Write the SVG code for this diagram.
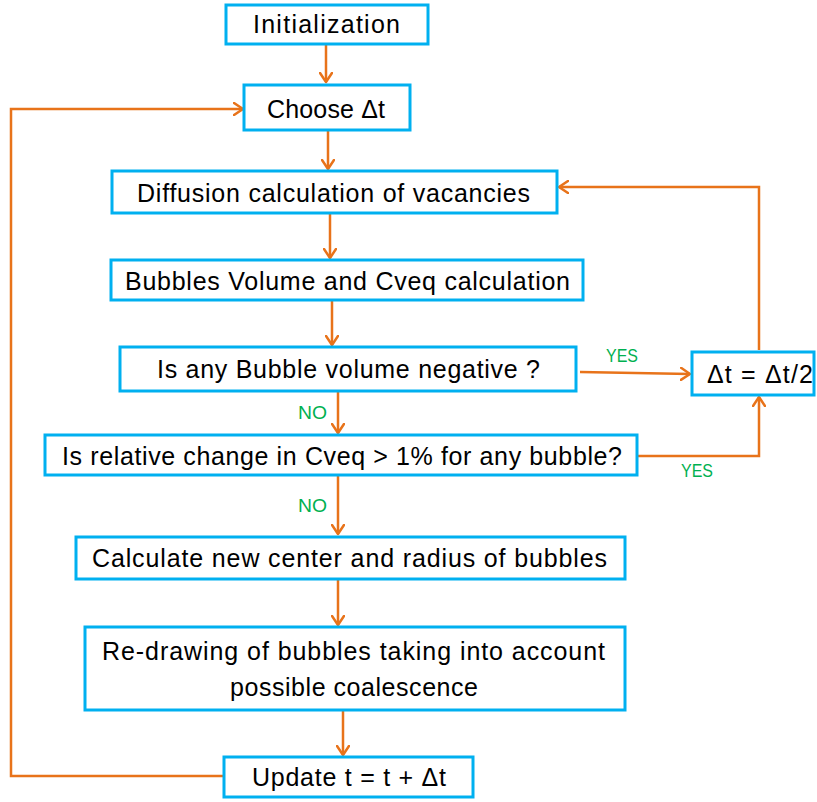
<svg xmlns="http://www.w3.org/2000/svg" width="817" height="802" viewBox="0 0 817 802">
  <defs>
    <marker id="arr" markerUnits="userSpaceOnUse" viewBox="-1 -1 12 14" refX="9" refY="6" markerWidth="12" markerHeight="14" orient="auto">
      <path d="M0,0 L9,6 L0,12" fill="none" stroke="#e8731a" stroke-width="2.5" stroke-linejoin="round" stroke-linecap="round"/>
    </marker>
  </defs>
  <style>
    .box { fill: #ffffff; stroke: #00b0f0; stroke-width: 3; }
    .t { font-family: "Liberation Sans", Arial, sans-serif; font-size: 25px; fill: #000000; }
    .lbl { font-family: "Liberation Sans", Arial, sans-serif; font-size: 18px; fill: #00b050; }
    .c { fill: none; stroke: #e8731a; stroke-width: 2.5; }
  </style>
  <rect width="817" height="802" fill="#ffffff"/>

  <g id="connectors">
    <path class="c" d="M326,44 V82" marker-end="url(#arr)"/>
    <path class="c" d="M328,131 V169" marker-end="url(#arr)"/>
    <path class="c" d="M330,213 V258" marker-end="url(#arr)"/>
    <path class="c" d="M332,301 V345" marker-end="url(#arr)"/>
    <path class="c" d="M338,392 V433" marker-end="url(#arr)"/>
    <path class="c" d="M338,476 V534" marker-end="url(#arr)"/>
    <path class="c" d="M338,580 V625" marker-end="url(#arr)"/>
    <path class="c" d="M343,711 V755" marker-end="url(#arr)"/>
    <path class="c" d="M580,372 L690,374" marker-end="url(#arr)"/>
    <path class="c" d="M638,456 H759 V397" marker-end="url(#arr)"/>
    <path class="c" d="M759,350 V187 H559" marker-end="url(#arr)"/>
    <path class="c" d="M223,776 H11 V109 H243" marker-end="url(#arr)"/>
    <text class="lbl" x="298" y="419" textLength="29" lengthAdjust="spacingAndGlyphs">NO</text>
    <text class="lbl" x="298" y="512" textLength="29" lengthAdjust="spacingAndGlyphs">NO</text>
    <text class="lbl" x="606" y="362" textLength="32" lengthAdjust="spacingAndGlyphs">YES</text>
    <text class="lbl" x="681" y="477" textLength="32" lengthAdjust="spacingAndGlyphs">YES</text>
  </g>

  <g id="init">
    <rect class="box" x="226" y="5" width="202" height="39"/>
    <text class="t" x="253" y="33" textLength="147">Initialization</text>
  </g>
  <g id="choose">
    <rect class="box" x="244" y="85" width="166" height="45"/>
    <text class="t" x="267" y="118" textLength="118">Choose Δt</text>
  </g>
  <g id="diffusion">
    <rect class="box" x="112" y="171" width="445" height="42"/>
    <text class="t" x="137" y="202" textLength="393">Diffusion calculation of vacancies</text>
  </g>
  <g id="volume">
    <rect class="box" x="111" y="260" width="472" height="40"/>
    <text class="t" x="125" y="290" textLength="445">Bubbles Volume and Cveq calculation</text>
  </g>
  <g id="negative">
    <rect class="box" x="120" y="347" width="456" height="44"/>
    <text class="t" x="157" y="378" textLength="383">Is any Bubble volume negative ?</text>
  </g>
  <g id="halve">
    <rect class="box" x="692" y="352" width="122" height="43"/>
    <text class="t" x="707" y="383" textLength="106">Δt = Δt/2</text>
  </g>
  <g id="relchange">
    <rect class="box" x="45" y="435" width="592" height="40"/>
    <text class="t" x="62" y="465" textLength="560">Is relative change in Cveq &gt; 1% for any bubble?</text>
  </g>
  <g id="calculate">
    <rect class="box" x="76" y="537" width="549" height="42"/>
    <text class="t" x="92" y="567" textLength="515">Calculate new center and radius of bubbles</text>
  </g>
  <g id="redraw">
    <rect class="box" x="85" y="627" width="540" height="83"/>
    <text class="t" x="102" y="660" textLength="503">Re-drawing of bubbles taking into account</text>
    <text class="t" x="230" y="696" textLength="248">possible coalescence</text>
  </g>
  <g id="update">
    <rect class="box" x="224" y="757" width="249" height="40"/>
    <text class="t" x="252" y="786" textLength="194">Update t = t + Δt</text>
  </g>
</svg>
